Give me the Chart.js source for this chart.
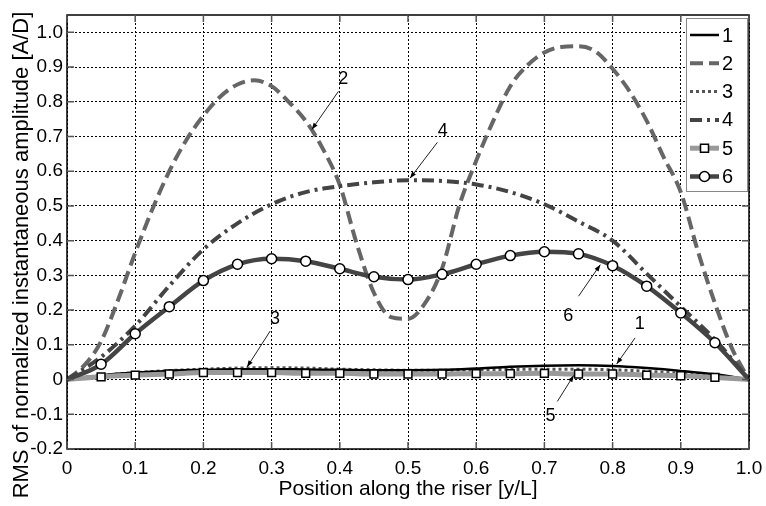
<!DOCTYPE html>
<html>
<head>
<meta charset="utf-8">
<script src="https://cdn.jsdelivr.net/npm/chart.js@4.4.0/dist/chart.umd.min.js"></script>
<style>
  html, body { margin: 0; padding: 0; background: #fff; }
  canvas { display: block; }
</style>
</head>
<body>
<canvas id="rmsChart" width="766" height="506"></canvas>
<script>
// positions along the riser (y/L)
var xPos = [0, 0.05, 0.1, 0.15, 0.2, 0.25, 0.3, 0.35, 0.4, 0.45, 0.5,
            0.55, 0.6, 0.65, 0.7, 0.75, 0.8, 0.85, 0.9, 0.95, 1.0];
var xPos2 = [0, 0.025, 0.05, 0.075, 0.1, 0.125, 0.15, 0.175, 0.2, 0.225, 0.25,
             0.275, 0.3, 0.325, 0.35, 0.375, 0.4, 0.425, 0.45, 0.475, 0.5,
             0.525, 0.55, 0.575, 0.6, 0.625, 0.65, 0.675, 0.7, 0.725, 0.75,
             0.775, 0.8, 0.825, 0.85, 0.875, 0.9, 0.925, 0.95, 0.975, 1.0];

// series values
var case1 = [0, 0.012, 0.02, 0.025, 0.028, 0.03, 0.03, 0.029, 0.028, 0.027, 0.027,
             0.028, 0.032, 0.037, 0.04, 0.041, 0.039, 0.033, 0.025, 0.015, 0];
var case2 = [0, 0.04, 0.11, 0.23, 0.365, 0.49, 0.6, 0.69, 0.76, 0.815, 0.85,
             0.862, 0.845, 0.8, 0.745, 0.665, 0.56, 0.39, 0.25, 0.18, 0.175,
             0.22, 0.32, 0.5, 0.63, 0.745, 0.845, 0.905, 0.942, 0.958, 0.96,
             0.945, 0.895, 0.83, 0.745, 0.64, 0.54, 0.37, 0.22, 0.09, 0];
var case3 = [0, 0.012, 0.02, 0.026, 0.03, 0.033, 0.034, 0.033, 0.03, 0.028, 0.027,
             0.027, 0.028, 0.029, 0.03, 0.03, 0.028, 0.024, 0.018, 0.01, 0];
var case4 = [0, 0.065, 0.155, 0.27, 0.375, 0.45, 0.505, 0.54, 0.557, 0.568, 0.574,
             0.572, 0.562, 0.54, 0.505, 0.455, 0.4, 0.305, 0.21, 0.115, 0];
var case5 = [0, 0.008, 0.013, 0.016, 0.02, 0.02, 0.02, 0.018, 0.018, 0.016, 0.016,
             0.016, 0.017, 0.017, 0.018, 0.016, 0.016, 0.013, 0.011, 0.006, 0];
var case6 = [0, 0.044, 0.132, 0.21, 0.285, 0.332, 0.348, 0.341, 0.319, 0.296, 0.288,
             0.303, 0.332, 0.357, 0.368, 0.362, 0.328, 0.269, 0.192, 0.106, 0];

var seriesNames = ['1', '2', '3', '4', '5', '6'];
var xTicks = [0, 0.1, 0.2, 0.3, 0.4, 0.5, 0.6, 0.7, 0.8, 0.9, 1.0];
var xTickLabels = ['0', '0.1', '0.2', '0.3', '0.4', '0.5', '0.6', '0.7', '0.8', '0.9', '1.0'];
var yTicks = [-0.2, -0.1, 0, 0.1, 0.2, 0.3, 0.4, 0.5, 0.6, 0.7, 0.8, 0.9, 1.0];
var yTickLabels = ['-0.2', '-0.1', '0', '0.1', '0.2', '0.3', '0.4', '0.5', '0.6', '0.7', '0.8', '0.9', '1.0'];

// curve labels with their arrows: [text, labelX, labelY, fromX, fromY, toX, toY]
var callouts = [
    ['2', 0.405, 0.865, 0.398, 0.83, 0.359, 0.72],
    ['4', 0.551, 0.716, 0.543, 0.683, 0.503, 0.58],
    ['3', 0.305, 0.173, 0.298, 0.14, 0.264, 0.036],
    ['6', 0.735, 0.183, 0.75, 0.24, 0.782, 0.331],
    ['1', 0.84, 0.159, 0.833, 0.12, 0.806, 0.045],
    ['5', 0.709, -0.106, 0.719, -0.063, 0.743, 0.012]
];

var FONT = '"Liberation Sans", Arial, Helvetica, sans-serif';

function pts(xs, ys) {
    return xs.map(function (x, i) { return { x: x, y: ys[i] }; });
}

// markers only on the inner points
function innerRadius(r) {
    return function (ctx) {
        var n = ctx.dataset.data.length;
        return (ctx.dataIndex === 0 || ctx.dataIndex === n - 1) ? 0 : r;
    };
}

var datasets = [
    { label: seriesNames[0], data: pts(xPos, case1), borderColor: '#000000', borderWidth: 2.5,
      pointRadius: 0, order: 2 },
    { label: seriesNames[1], data: pts(xPos2, case2), borderColor: '#666666', borderWidth: 4,
      borderDash: [13, 6], pointRadius: 0, order: 5 },
    { label: seriesNames[2], data: pts(xPos, case3), borderColor: '#555555', borderWidth: 3,
      borderDash: [3, 3], pointRadius: 0, order: 3 },
    { label: seriesNames[3], data: pts(xPos, case4), borderColor: '#444444', borderWidth: 4,
      borderDash: [12, 5, 3, 5], pointRadius: 0, order: 4 },
    { label: seriesNames[4], data: pts(xPos, case5), borderColor: '#9a9a9a', borderWidth: 5,
      pointStyle: 'rect', pointRadius: innerRadius(5.5), pointBorderColor: '#000000',
      pointBackgroundColor: '#ffffff', pointBorderWidth: 1.5, order: 1 },
    { label: seriesNames[5], data: pts(xPos, case6), borderColor: '#444444', borderWidth: 4.5,
      pointStyle: 'circle', pointRadius: innerRadius(5), pointBorderColor: '#000000',
      pointBackgroundColor: '#ffffff', pointBorderWidth: 1.5, order: 0 }
];
datasets.forEach(function (d) {
    d.fill = false;
    d.cubicInterpolationMode = 'monotone';
    d.pointHoverRadius = 0;
});

function arrow(ctx, x1, y1, x2, y2) {
    ctx.beginPath();
    ctx.moveTo(x1, y1);
    ctx.lineTo(x2, y2);
    ctx.stroke();
    var a = Math.atan2(y2 - y1, x2 - x1);
    ctx.beginPath();
    ctx.moveTo(x2, y2);
    ctx.lineTo(x2 - 7 * Math.cos(a - 0.35), y2 - 7 * Math.sin(a - 0.35));
    ctx.lineTo(x2 - 7 * Math.cos(a + 0.35), y2 - 7 * Math.sin(a + 0.35));
    ctx.closePath();
    ctx.fill();
}

var decorPlugin = {
    id: 'decor',
    beforeDraw: function (chart) {
        var ctx = chart.ctx;
        ctx.save();
        ctx.fillStyle = '#ffffff';
        ctx.fillRect(0, 0, chart.width, chart.height);
        ctx.restore();
    },
    afterDraw: function (chart) {
        var ctx = chart.ctx, a = chart.chartArea;
        var sx = chart.scales.x, sy = chart.scales.y;
        ctx.save();

        // frame and inner tick marks
        ctx.strokeStyle = '#000000';
        ctx.lineWidth = 1.5;
        ctx.strokeRect(a.left, a.top, a.right - a.left, a.bottom - a.top);
        ctx.strokeStyle = '#555555';
        ctx.lineWidth = 1.5;
        xTicks.forEach(function (v) {
            var px = sx.getPixelForValue(v);
            ctx.beginPath();
            ctx.moveTo(px, a.bottom); ctx.lineTo(px, a.bottom - 7);
            ctx.moveTo(px, a.top); ctx.lineTo(px, a.top + 7);
            ctx.stroke();
        });
        yTicks.forEach(function (v) {
            var py = sy.getPixelForValue(v);
            ctx.beginPath();
            ctx.moveTo(a.left, py); ctx.lineTo(a.left + 7, py);
            ctx.moveTo(a.right, py); ctx.lineTo(a.right - 7, py);
            ctx.stroke();
        });

        // curve callouts
        ctx.fillStyle = '#000000';
        ctx.strokeStyle = '#222222';
        ctx.lineWidth = 1;
        ctx.font = '18px ' + FONT;
        ctx.textAlign = 'center';
        ctx.textBaseline = 'middle';
        callouts.forEach(function (c) {
            ctx.fillText(c[0], sx.getPixelForValue(c[1]), sy.getPixelForValue(c[2]));
            arrow(ctx, sx.getPixelForValue(c[3]), sy.getPixelForValue(c[4]),
                  sx.getPixelForValue(c[5]), sy.getPixelForValue(c[6]));
        });

        // legend box inside the plot, top right
        var lx = 686, ly = 18, lw = 61, lh = 173;
        ctx.fillStyle = '#ffffff';
        ctx.fillRect(lx, ly, lw, lh);
        ctx.strokeStyle = '#888888';
        ctx.lineWidth = 1;
        ctx.strokeRect(lx + 0.5, ly + 0.5, lw, lh);
        chart.data.datasets.forEach(function (d, i) {
            var yy = 35 + i * 28.3;
            ctx.save();
            ctx.strokeStyle = d.borderColor;
            ctx.lineWidth = d.borderWidth;
            ctx.setLineDash(d.borderDash || []);
            ctx.beginPath();
            ctx.moveTo(690, yy); ctx.lineTo(719, yy);
            ctx.stroke();
            ctx.restore();
            if (d.pointStyle) {
                ctx.save();
                ctx.fillStyle = '#ffffff';
                ctx.strokeStyle = '#000000';
                ctx.lineWidth = 1.5;
                ctx.beginPath();
                if (d.pointStyle === 'rect') ctx.rect(700.5, yy - 4, 8, 8);
                else ctx.arc(704.5, yy, 5, 0, Math.PI * 2);
                ctx.fill(); ctx.stroke();
                ctx.restore();
            }
            ctx.fillStyle = '#000000';
            ctx.font = '20px ' + FONT;
            ctx.textAlign = 'left';
            ctx.textBaseline = 'middle';
            ctx.fillText(d.label, 722, yy + 1);
        });

        // axis titles
        ctx.fillStyle = '#000000';
        ctx.font = '21px ' + FONT;
        ctx.textAlign = 'center';
        ctx.textBaseline = 'middle';
        ctx.fillText('Position along the riser [y/L]', (a.left + a.right) / 2, 489);
        ctx.translate(22, 255);
        ctx.rotate(-Math.PI / 2);
        ctx.font = '22px ' + FONT;
        ctx.fillText('RMS of normalized instantaneous amplitude [A/D]', 0, 0);
        ctx.restore();
    }
};

var ctxEl = document.getElementById('rmsChart');
var rmsChart = new Chart(ctxEl, {
    type: 'line',
    data: { datasets: datasets },
    plugins: [decorPlugin],
    options: {
        responsive: false,
        animation: false,
        devicePixelRatio: 1,
        layout: { padding: { left: 0, top: 15, right: 17, bottom: 0 } },
        plugins: { legend: { display: false }, tooltip: { enabled: false } },
        scales: {
            x: {
                type: 'linear', min: 0, max: 1,
                afterFit: function (s) { s.height = 57; s.paddingLeft = 0; s.paddingRight = 0; },
                afterBuildTicks: function (s) { s.ticks = xTicks.map(function (v) { return { value: v }; }); },
                ticks: {
                    color: '#000000', font: { family: FONT, size: 19 }, padding: 8, maxRotation: 0,
                    callback: function (v) { return xTickLabels[xTicks.indexOf(v)]; }
                },
                grid: { color: '#000000', lineWidth: 1, drawTicks: false, borderDash: [2, 2] },
                border: { display: false, dash: [2, 2] }
            },
            y: {
                type: 'linear', min: -0.2, max: 1.05,
                afterFit: function (s) { s.width = 67; s.paddingTop = 0; s.paddingBottom = 0; },
                afterBuildTicks: function (s) { s.ticks = yTicks.map(function (v) { return { value: v }; }); },
                ticks: {
                    color: '#000000', font: { family: FONT, size: 19 }, padding: 4,
                    callback: function (v) { return yTickLabels[yTicks.indexOf(v)]; }
                },
                grid: { color: '#000000', lineWidth: 1, drawTicks: false },
                border: { display: false, dash: [2, 2] }
            }
        }
    }
});
</script>
</body>
</html>
